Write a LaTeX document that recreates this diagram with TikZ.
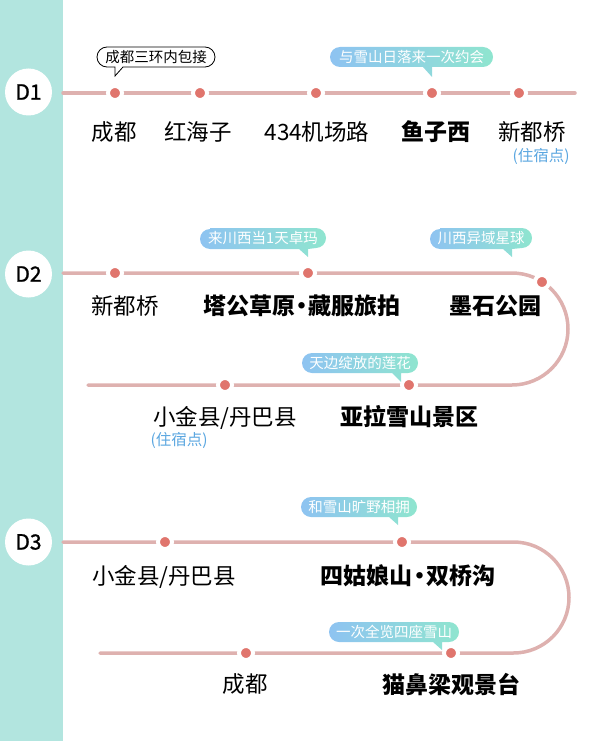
\documentclass[tikz,border=0pt]{standalone}
\usepackage{fontspec}
\setmainfont{Noto Sans CJK SC}
\newfontfamily\dayfont{Noto Sans CJK SC}[FakeBold=1.2]
\definecolor{bandc}{HTML}{B2E5DF}
\definecolor{routec}{HTML}{DEB1AF}
\definecolor{dotc}{HTML}{E0756D}
\definecolor{bubL}{HTML}{8EC3F1}
\definecolor{bubR}{HTML}{8FE5CF}
\definecolor{stayc}{HTML}{5AA6E0}
\newcommand\middot{\hspace{-0.2em}·\hspace{-0.2em}}
\tikzset{
  daycirc/.style={circle,fill=white,minimum size=47pt,inner sep=0pt,font=\dayfont\fontsize{21}{21}\selectfont},
  route/.style={routec,line width=3.5pt,line cap=round},
  stopdot/.style={circle,fill=dotc,draw=white,line width=4pt,minimum size=14pt,inner sep=0pt},
  lab/.style={inner sep=0pt,font=\fontsize{22.5}{22.5}\selectfont},
  blab/.style={inner sep=0pt,font=\fontsize{23}{23}\selectfont\bfseries},
  stay/.style={inner sep=0pt,text=stayc,font=\fontsize{15.5}{15.5}\selectfont},
  bubtext/.style={inner sep=0pt,text=white,font=\fontsize{14.5}{14.5}\selectfont},
  bubshade/.style={left color=bubL,right color=bubR}
}
% #1 name, #2 x1, #3 y1, #4 x2, #5 y2, #6 tip x, #7 tip y, #8 text
\newcommand\gradbubble[8]{%
  \shade[bubshade] ({#2+10},#3) -- ({#4-10},#3) arc[start angle=-90,end angle=90,radius=10]
    -- (#6,#5) -- (#6,#7) -- ({#6-9},#5) -- ({#2+10},#5) arc[start angle=90,end angle=270,radius=10] -- cycle;
  \node[bubtext] (#1) at ({(#2+#4)/2},{(#3+#5)/2}) {#8};
}
\begin{document}
\begin{tikzpicture}[x=1pt,y=-1pt]
\useasboundingbox (0,0) rectangle (600,741);
\fill[bandc] (0,0) rectangle (63,741);

% day markers
\node[daycirc] (d1) at (28.5,92) {D1};
\node[daycirc] (d2) at (28.5,274) {D2};
\node[daycirc] (d3) at (28.5,542) {D3};

% ---------- D1 ----------
\coordinate (r1s) at (63,93);
\coordinate (r1e) at (575,93);
\draw[route] (r1s) -- (r1e);
\node[stopdot] (s11) at (115,93) {};
\node[stopdot] (s12) at (200,93) {};
\node[stopdot] (s13) at (316,93) {};
\node[stopdot] (s14) at (432,93) {};
\node[stopdot] (s15) at (519,93) {};
\node[lab] (l11) at (114,132) {成都};
\node[lab] (l12) at (198,132) {红海子};
\node[lab] (l13) at (317,132) {434机场路};
\node[blab] (l14) at (436,132) {鱼子西};
\node[lab] (l15) at (532,132) {新都桥};
\node[stay] (st1) at (541,156) {(住宿点)};
\filldraw[fill=white,draw=black,line width=0.8pt]
  (107,47) -- (205,47) arc[start angle=-90,end angle=90,radius=10]
  -- (123,67) -- (115,76) -- (115,67) -- (107,67) arc[start angle=90,end angle=270,radius=10] -- cycle;
\node[inner sep=0pt,font=\fontsize{14.5}{14.5}\selectfont] (b11) at (156,57) {成都三环内包接};
\gradbubble{b12}{330}{47}{493}{67}{432}{77}{与雪山日落来一次约会}

% ---------- D2 ----------
\coordinate (r2s) at (63,273);
\coordinate (r2a) at (512,273);
\coordinate (r2e) at (88,385);
\draw[route] (r2s) -- (r2a) arc[start angle=-90,end angle=90,radius=56] -- (r2e);
\node[stopdot] (s21) at (115,273) {};
\node[stopdot] (s22) at (308,273) {};
\node[stopdot] (s23) at (542,282) {};
\node[stopdot] (s24) at (225,385) {};
\node[stopdot] (s25) at (409,385) {};
\node[lab] (l21) at (125,306) {新都桥};
\node[blab] (l22) at (302,306) {塔公草原\middot 藏服旅拍};
\node[blab] (l23) at (495,306) {墨石公园};
\node[lab] (l24) at (225,418) {小金县/丹巴县};
\node[stay] (st2) at (179,440) {(住宿点)};
\node[blab] (l25) at (409,417) {亚拉雪山景区};
\gradbubble{b21}{200}{228}{326}{249}{308}{257}{来川西当1天卓玛}
\gradbubble{b22}{430}{228}{532}{249}{512}{257}{川西异域星球}
\gradbubble{b23}{302}{353}{418}{373}{401}{382}{天边绽放的莲花}

% ---------- D3 ----------
\coordinate (r3s) at (63,542);
\coordinate (r3a) at (513.5,542);
\coordinate (r3e) at (100,653);
\draw[route] (r3s) -- (r3a) arc[start angle=-90,end angle=90,radius=55.5] -- (r3e);
\node[stopdot] (s31) at (165,542) {};
\node[stopdot] (s32) at (402,542) {};
\node[stopdot] (s33) at (246,653) {};
\node[stopdot] (s34) at (451,653) {};
\node[lab] (l31) at (164,577) {小金县/丹巴县};
\node[blab] (l32) at (408,576) {四姑娘山\middot 双桥沟};
\node[lab] (l33) at (245,684) {成都};
\node[blab] (l34) at (451,685) {猫鼻梁观景台};
\gradbubble{b31}{301}{497}{417}{517}{398}{525}{和雪山旷野相拥}
\gradbubble{b32}{329}{622}{459}{642}{442}{650}{一次全览四座雪山}
\end{tikzpicture}
\end{document}
